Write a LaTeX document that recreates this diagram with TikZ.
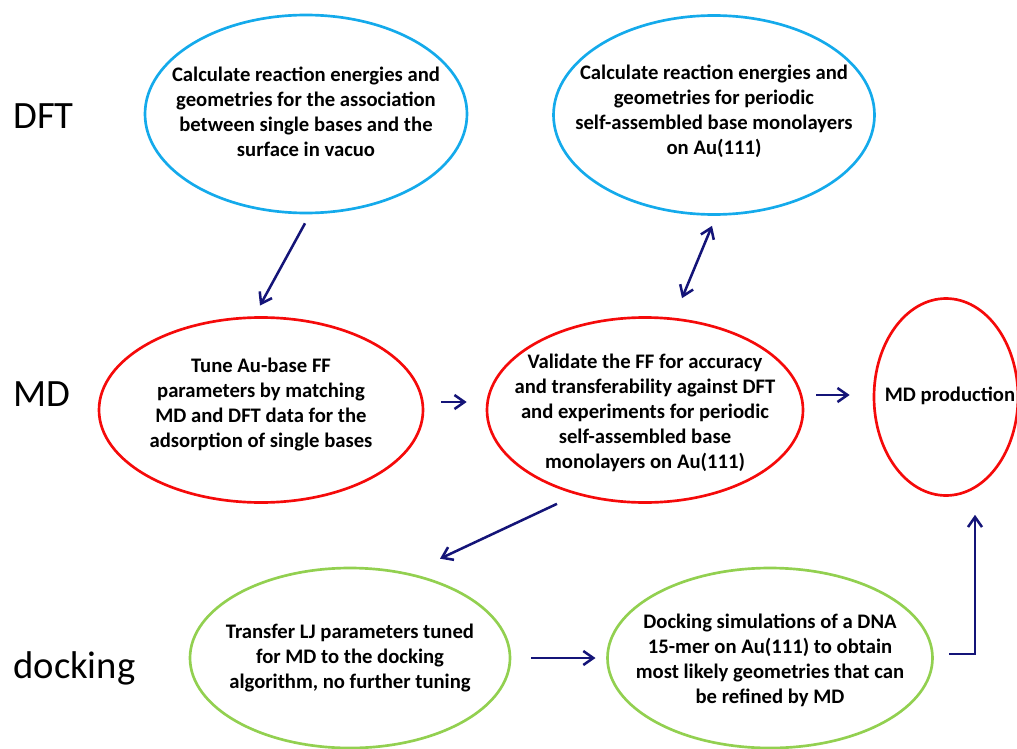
\documentclass[tikz,border=0pt]{standalone}
\usepackage{fontspec}
\setmainfont{Carlito}
\usetikzlibrary{shapes.geometric,arrows.meta}
\definecolor{dftazul}{RGB}{20,170,235}
\definecolor{mdrojo}{RGB}{245,10,10}
\definecolor{dockverde}{RGB}{146,208,80}
\definecolor{flecha}{RGB}{20,20,120}

\begin{document}
\begin{tikzpicture}[x=0.75pt, y=-0.75pt, >={Straight Barb[length=7.5pt,width=10.5pt]}, line width=2pt,
    caja/.style 2 args={ellipse, draw, inner sep=0pt, minimum width=#1*0.75pt, minimum height=#2*0.75pt},
    texto/.style={text=black, align=center, inner sep=0pt, font=\fontsize{15.5}{18.7}\selectfont\bfseries},
    fila/.style={anchor=west, inner sep=0pt, font=\fontsize{29}{34}\selectfont},
    flujo/.style={flecha, line width=1.9pt}]
    \useasboundingbox (0,0) rectangle (1017,749);
    \clip (0,0) rectangle (1017,749);
    % row labels
    \node[fila] (ldft) at (12,116) {DFT};
    \node[fila] (lmd) at (12,394) {MD};
    \node[fila] (ldock) at (12,668) {docking};
    % DFT
    \node[caja={322}{198}, dftazul, label={[texto,yshift=1.5pt]center:{Calculate reaction energies and\\ geometries for the association\\ between single bases and the\\ surface in vacuo}}] (dftA) at (306,114) {};
    \node[caja={321}{199}, dftazul, label={[texto,yshift=3pt]center:{Calculate reaction energies and\\ geometries for periodic\\ self-assembled base monolayers\\ on Au(111)}}] (dftB) at (714,115) {};
    % MD
    \node[caja={324}{185}, mdrojo, label={[texto,yshift=4pt]center:{Tune Au-base FF\\ parameters by matching\\ MD and DFT data for the\\ adsorption of single bases}}] (mdA) at (261,410) {};
    \node[caja={316}{185}, mdrojo, label={[texto,yshift=-2pt]center:{Validate the FF for accuracy\\ and transferability against DFT\\ and experiments for periodic\\ self-assembled base\\ monolayers on Au(111)}}] (mdB) at (645,410) {};
    \node[caja={144}{197}, mdrojo, label={[texto,xshift=3pt,yshift=1pt]center:{MD production}}] (mdC) at (946,397) {};
    % docking
    \node[caja={320}{180}, dockverde, label={[texto]center:{Transfer LJ parameters tuned\\ for MD to the docking\\ algorithm, no further tuning}}] (dockA) at (350,658) {};
    \node[caja={325}{180}, dockverde, label={[texto,yshift=-2pt]center:{Docking simulations of a DNA\\ 15-mer on Au(111) to obtain\\ most likely geometries that can\\ be refined by MD}}] (dockB) at (770,658) {};
    % connectors
    \draw[flujo,->] ([xshift=-0.75pt,yshift=-6.75pt]dftA.south) -- ([xshift=-0.75pt,yshift=8pt]mdA.north);
    \draw[flujo,<->] ([xshift=27.75pt,yshift=13.5pt]mdB.north) -- ([xshift=-1.5pt,yshift=-7.5pt]dftB.south);
    \draw[flujo,->] ([xshift=12.75pt,yshift=6pt]mdA.east) -- ([xshift=-14.25pt,yshift=6pt]mdB.west);
    \draw[flujo,->] ([xshift=9pt,yshift=11.25pt]mdB.east) -- ([xshift=-17.25pt,yshift=1.5pt]mdC.west);
    \draw[flujo,->] ([xshift=-66pt]mdB.south) -- ([xshift=67.5pt,yshift=6pt]dockA.north);
    \draw[flujo,->] ([xshift=15pt]dockA.east) -- ([xshift=-8pt]dockB.west);
    \draw[flujo,->] ([xshift=11.6pt,yshift=3pt]dockB.east) -| ([xshift=21.75pt,yshift=-13.5pt]mdC.south);
\end{tikzpicture}
\end{document}
